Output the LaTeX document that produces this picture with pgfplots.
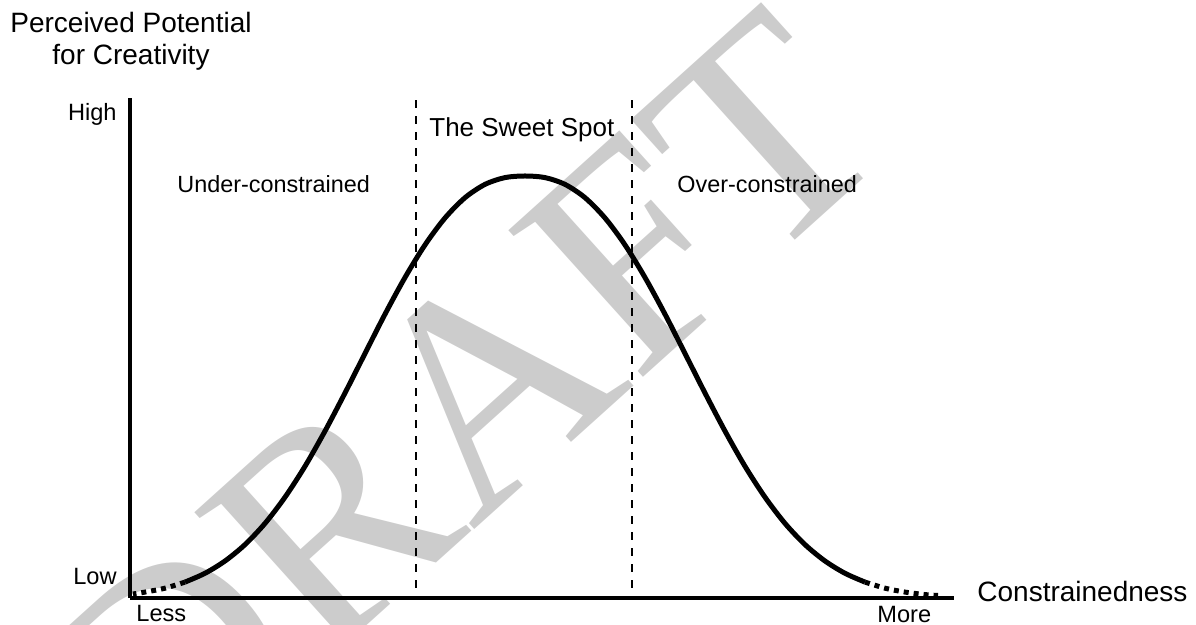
\documentclass[border=0pt]{standalone}
\usepackage{pgfplots}
\pgfplotsset{compat=1.18}
\usepackage{fontspec}
\setmainfont{Liberation Sans}
\newfontfamily\wmfont{Liberation Serif}
\begin{document}
\begin{tikzpicture}
\useasboundingbox (-65pt,-13.5pt) rectangle (533pt,299pt);
% watermark
\node[rotate=42, anchor=base west, inner sep=0pt, text=black!20,
      font=\wmfont\fontsize{152}{152}\selectfont] at (14pt,-108pt) {DRAFT};
\begin{axis}[
  at={(0,0)}, anchor=origin,
  scale only axis, width=412pt, height=250pt,
  xmin=0, xmax=824, ymin=0, ymax=500,
  axis x line=bottom, axis y line=left,
  axis line style={-, line width=1.7pt},
  xtick=\empty, ytick=\empty,
  clip=false,
]
% solid part of the curve
\addplot[line width=2.5pt, smooth, tension=0.5] coordinates {
 (55,15.9) (75,24.7) (95,37.0) (115,53.4) (135,74.6) (155,100.8)
 (175,131.7) (195,166.9) (215,205.0) (235,244.5) (255,283.8) (275,320.5)
 (295,353.1) (315,380.0) (335,400.3) (355,413.6) (375,420.4) (395,422)
 (415,420.4) (435,413.6) (455,400.3) (475,380.0) (495,353.1) (515,320.5)
 (535,283.8) (555,244.5) (575,205.0) (595,166.9) (615,131.7) (635,100.8)
 (655,74.6) (675,53.4) (695,37.0) (715,24.7) (735,15.9)
};
% dotted tails
\addplot[line width=2.5pt, smooth, dash pattern=on 2.5pt off 2.5pt] coordinates {
 (55,15.9) (35,9.8) (15,5.9) (3,4)
};
\addplot[line width=2.5pt, smooth, dash pattern=on 2.5pt off 2.5pt] coordinates {
 (735,15.9) (755,9.8) (775,5.9) (795,3.4) (808,2.5)
};
% sweet spot boundaries
\addplot[line width=1.1pt, dash pattern=on 4pt off 4pt] coordinates {(286,10) (286,503)};
\addplot[line width=1.1pt, dash pattern=on 4pt off 4pt] coordinates {(502,10) (502,503)};
% labels
\node[anchor=base, font=\fontsize{14}{16}\selectfont, inner sep=0pt] at (1,565) {Perceived Potential};
\node[anchor=base, font=\fontsize{14}{16}\selectfont, inner sep=0pt] at (1,533) {for Creativity};
\node[anchor=base east, font=\fontsize{11.8}{14}\selectfont, inner sep=0pt] at (-13,477) {High};
\node[anchor=base east, font=\fontsize{11.8}{14}\selectfont, inner sep=0pt] at (-13,13) {Low};
\node[anchor=base west, font=\fontsize{11.8}{14}\selectfont, inner sep=0pt] at (6,-24) {Less};
\node[anchor=base west, font=\fontsize{11.8}{14}\selectfont, inner sep=0pt] at (747,-25) {More};
\node[anchor=base west, font=\fontsize{14}{16}\selectfont, inner sep=0pt] at (847,-4) {Constrainedness};
\node[anchor=base west, font=\fontsize{13}{15}\selectfont, inner sep=0pt] at (299,461) {The Sweet Spot};
\node[anchor=base west, font=\fontsize{11.7}{14}\selectfont, inner sep=0pt] at (47,405) {Under-constrained};
\node[anchor=base west, font=\fontsize{11.7}{14}\selectfont, inner sep=0pt] at (547,405) {Over-constrained};
\end{axis}
\end{tikzpicture}
\end{document}
